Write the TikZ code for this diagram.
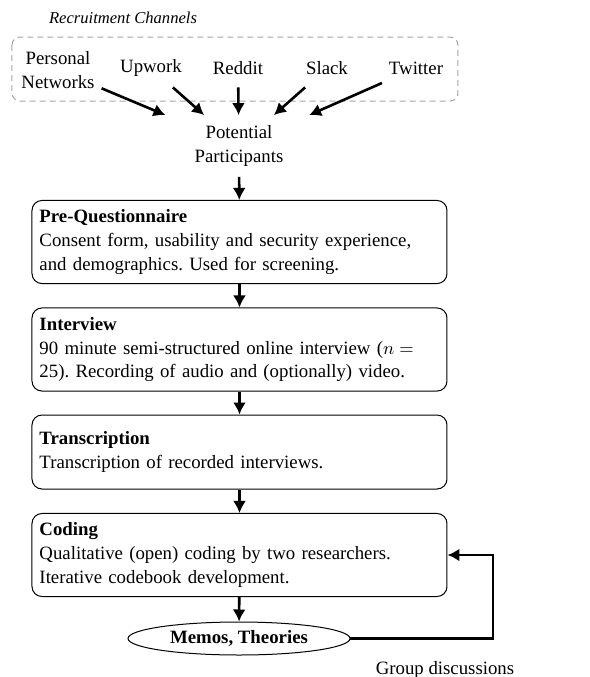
\documentclass[tikz,border=0pt]{standalone}
\usepackage{fontspec}
\setmainfont{Liberation Serif}
\usetikzlibrary{arrows.meta,shapes.geometric,positioning}
\frenchspacing
\tikzset{
  src/.style={inner sep=3.33pt, minimum height=19pt, align=center},
  stepbox/.style={draw, line width=0.5pt, rounded corners=5pt, text width=200pt,
    inner xsep=3.75pt, inner ysep=4.6pt, align=left, minimum height=37pt},
  flowarrow/.style={line width=1.3pt, -{Latex[length=6pt,width=6.5pt]}},
  groupbox/.style={draw=gray!70, dashed, dash pattern=on 3pt off 2pt, line width=0.5pt, rounded corners=4pt}
}
\begin{document}
\begin{tikzpicture}[x=0.5pt,y=-0.5pt, font=\fontsize{9.4pt}{11.9pt}\selectfont]
\useasboundingbox (0,0) rectangle (590,677);
% recruitment group
\draw[groupbox] (12,37) rectangle (458,101);
\node[font=\fontsize{8.3pt}{10pt}\selectfont\itshape] (rc) at (123,18) {Recruitment Channels};
\node[src, minimum height=0pt] (pn) at (58,70) {Personal\\Networks};
\node[src] (up) at (151,68) {Upwork};
\node[src] (rd) at (238,68) {Reddit};
\node[src] (sl) at (327,68) {Slack};
\node[src] (tw) at (416,68) {Twitter};
\node[align=center, minimum width=170pt, minimum height=30.5pt, inner sep=0pt] (pp) at (239,146) {Potential\\Participants};
\foreach \s in {pn,up,rd,sl,tw} \draw[flowarrow] (\s) -- (pp);
% steps
\node[stepbox] (pq) at (239.5,242) {\textbf{Pre-Questionnaire}\\Consent form, usability and security experience,\\and demographics. Used for screening.};
\node[stepbox] (iv) at (239.5,349.5) {\textbf{Interview}\\90 minute semi-structured online interview (\(n =\)\\25). Recording of audio and (optionally) video.};
\node[stepbox] (tr) at (239.5,452) {\textbf{Transcription}\\Transcription of recorded interviews.};
\node[stepbox] (cd) at (239.5,555) {\textbf{Coding}\\Qualitative (open) coding by two researchers.\\Iterative codebook development.};
\node[draw, ellipse, line width=0.5pt, minimum width=111pt, minimum height=16.5pt, inner sep=0pt, font=\fontsize{9.4pt}{11.9pt}\selectfont\bfseries] (mt) at (239,638.5) {Memos, Theories};
\draw[flowarrow] (pp) -- (pq);
\draw[flowarrow] (pq) -- (iv);
\draw[flowarrow] (iv) -- (tr);
\draw[flowarrow] (tr) -- (cd);
\draw[flowarrow] (cd) -- (mt);
\coordinate (fb) at (493,555);
\draw[flowarrow] (mt.east) -| (fb) -- (cd.east);
\node[anchor=north, inner ysep=2pt] (gd) at (445,657) {Group discussions};
\end{tikzpicture}
\end{document}
